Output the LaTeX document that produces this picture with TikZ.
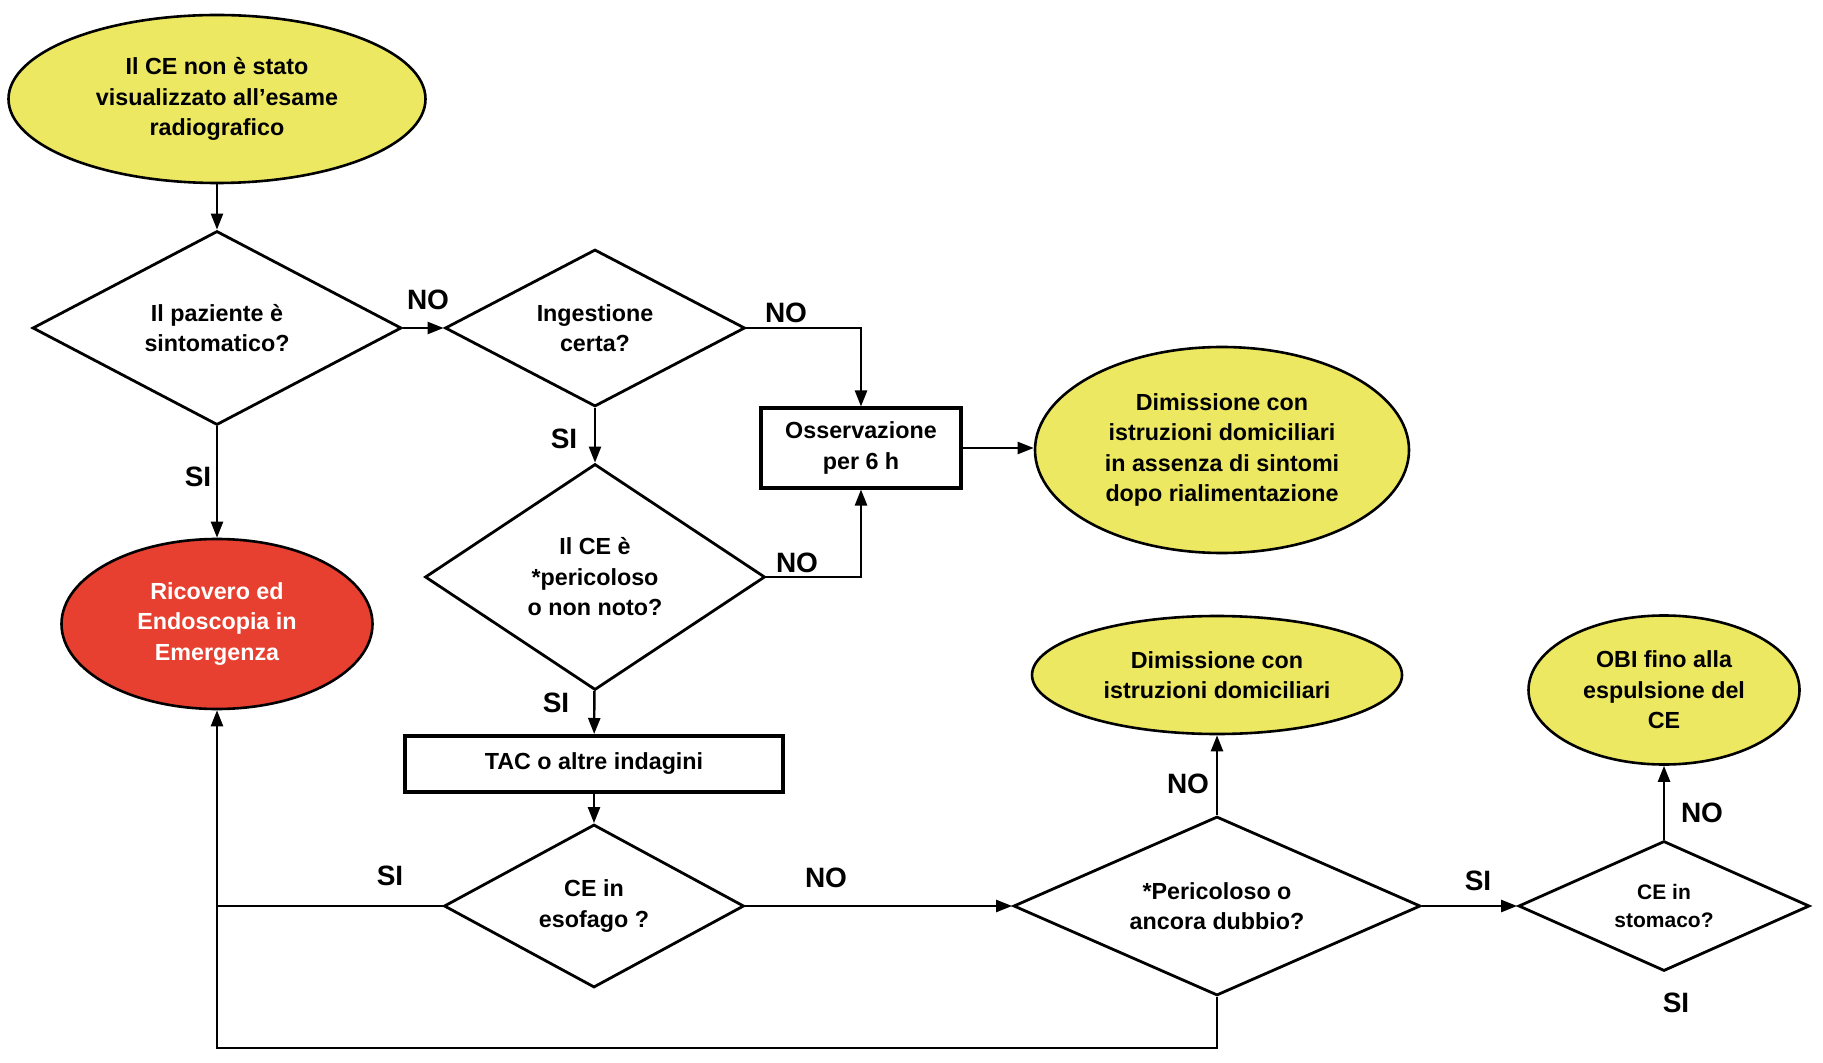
\documentclass[tikz,border=0pt]{standalone}
\usepackage{fontspec}
\setmainfont{Liberation Sans}
\usetikzlibrary{shapes.geometric,arrows.meta}
\definecolor{cegiallo}{RGB}{237,232,98}
\definecolor{cerosso}{RGB}{232,64,48}
\tikzset{
	testo/.style={font=\fontsize{11.65}{15.25}\selectfont\bfseries},
	domanda/.style={diamond, draw, line width=1.4pt, inner sep=0pt, align=center, testo},
	esito/.style={ellipse, draw, line width=1.3pt, fill=cegiallo, inner sep=0pt, align=center, testo},
	azione/.style={rectangle, draw, line width=2pt, inner sep=0pt, align=center, testo},
	risposta/.style={font=\fontsize{14}{14}\selectfont\bfseries},
	linea/.style={line width=1.2pt},
	freccia/.style={line width=1.2pt, -{Triangle[length=8pt,width=6pt]}}
}

\begin{document}
\begin{tikzpicture}[x=0.5pt, y=-0.5pt]
		%%%%% START %%%%%
		\useasboundingbox (0,0) rectangle (1823,1063);
		
		\node[esito, minimum width=208.5pt, minimum height=84pt] (start) at (217,99) {Il CE non è stato\\visualizzato all'esame\\radiografico};
		
		\node[domanda, aspect=1.9, minimum width=184.5pt, minimum height=97pt] (d1) at (217,328) {Il paziente è\\sintomatico?};
		\node[domanda, aspect=1.91, minimum width=150pt, minimum height=78.5pt] (d2) at (595,328) {Ingestione\\certa?};
		\node[azione, minimum width=100pt, minimum height=39.5pt] (obs) at (861,448) {Osservazione\\per 6 h};
		\node[esito, minimum width=187pt, minimum height=103pt] (dim1) at (1222,450) {Dimissione con\\istruzioni domiciliari\\in assenza di sintomi\\dopo rialimentazione};
		
		\node[domanda, aspect=1.5, minimum width=170pt, minimum height=113pt] (d3) at (595,577) {Il CE è\\*pericoloso\\o non noto?};
		\node[esito, fill=cerosso, text=white, minimum width=155.5pt, minimum height=85pt] (ric) at (217,624) {Ricovero ed\\Endoscopia in\\Emergenza};
		\node[azione, minimum width=189pt, minimum height=28pt] (tac) at (594,764) {TAC o altre indagini};
		
		\node[domanda, aspect=1.84, minimum width=150pt, minimum height=81.5pt] (d4) at (594,906) {CE in\\esofago ?};
		\node[domanda, aspect=2.27, minimum width=203.5pt, minimum height=89.5pt] (d5) at (1217,906) {*Pericoloso o\\ancora dubbio?};
		\node[esito, minimum width=185pt, minimum height=59pt] (dim2) at (1217,675) {Dimissione con\\istruzioni domiciliari};
		\node[domanda, aspect=2.24, minimum width=145.5pt, minimum height=65pt, font=\fontsize{10.5}{14}\selectfont\bfseries] (d6) at (1664,906) {CE in\\stomaco?};
		\node[esito, minimum width=135.5pt, minimum height=74.5pt] (obi) at (1664,690) {OBI fino alla\\espulsione del\\CE};
		
		% risposte
		\node[risposta] (no1) at (428,300) {NO};
		\node[risposta] (no2) at (786,313) {NO};
		\node[risposta] (si1) at (198,477) {SI};
		\node[risposta] (si2) at (564,439) {SI};
		\node[risposta] (no3) at (797,563) {NO};
		\node[risposta] (si3) at (556,703) {SI};
		\node[risposta] (si4) at (390,876) {SI};
		\node[risposta] (no4) at (826,878) {NO};
		\node[risposta] (no5) at (1188,784) {NO};
		\node[risposta] (si5) at (1478,881) {SI};
		\node[risposta] (no6) at (1702,813) {NO};
		\node[risposta] (si6) at (1676,1003) {SI};
		
		% frecce
		\draw[freccia] (start) -- (d1);
		\draw[freccia] (d1) -- (d2);
		\draw[freccia] (d1) -- (ric);
		\draw[freccia] (d2.east) -| (obs.north);
		\draw[freccia] (d2) -- (d3);
		\draw[freccia] (d3.east) -| (obs.south);
		\draw[freccia] (obs) -- (obs.east -| dim1.west);
		\draw[freccia] (d3) -- (tac);
		\draw[freccia] (tac) -- (d4);
		\draw[linea] (d4.west) -- (d4.west -| ric.south);
		\draw[freccia] (d4) -- (d5);
		\draw[freccia] (d5) -- (dim2);
		\draw[freccia] (d5) -- (d6);
		\draw[freccia] (d6) -- (obi);
		
		\coordinate (ritorno) at (217,1048);
		\draw[freccia] (d5.south) |- (ritorno) -- (ric.south);
		
		%%%%% END %%%%%
	\end{tikzpicture}
\end{document}
